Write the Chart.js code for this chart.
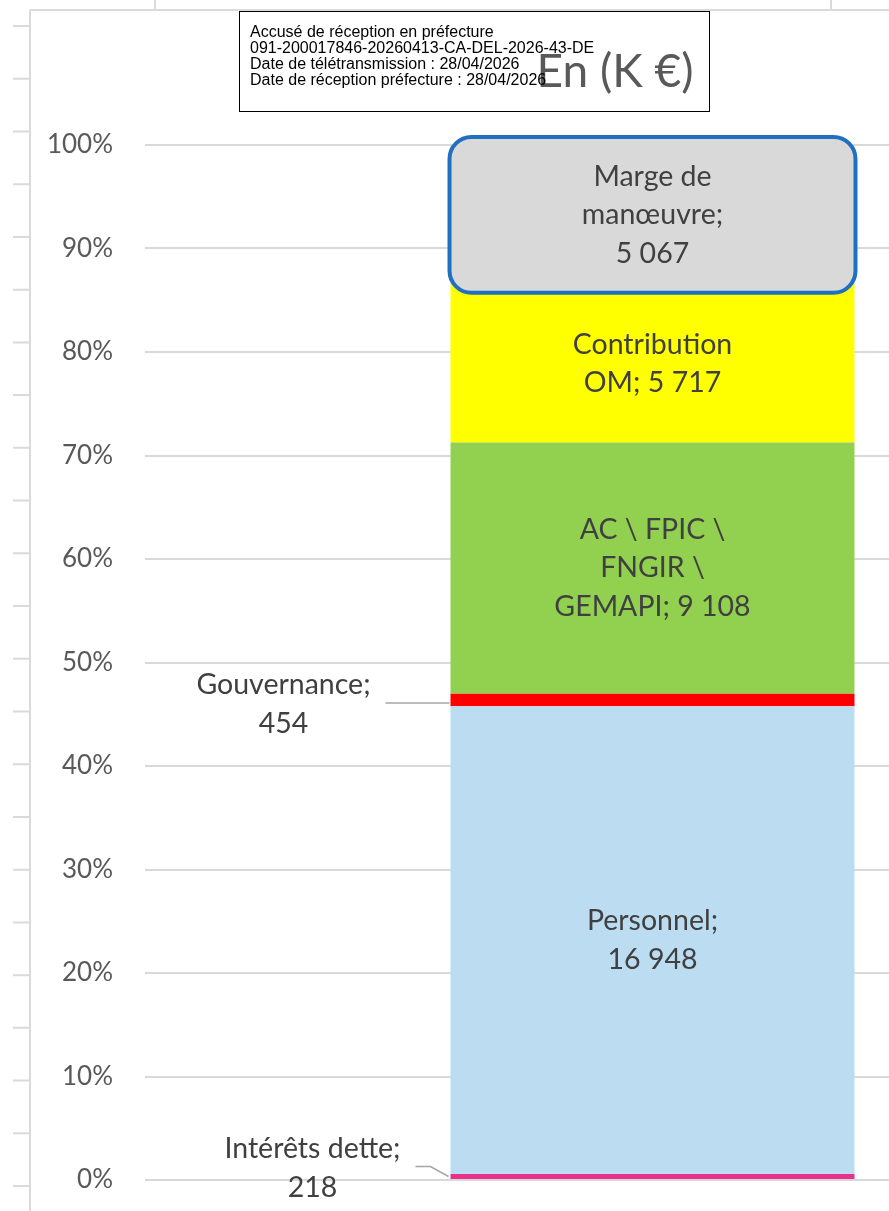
<!DOCTYPE html>
<html>
<head>
<meta charset="utf-8">
<script src="https://cdn.jsdelivr.net/npm/chart.js@4.4.1/dist/chart.umd.min.js"></script>
<style>
  body { margin: 0; width: 889px; height: 1211px; overflow: hidden; background: #fff; position: relative; }
  #wrap { position: absolute; left: 0; top: 0; width: 1170px; height: 1211px; }
  #stamp {
    position: absolute; left: 239px; top: 11px; width: 459px; height: 87px;
    border: 1px solid #000; padding: 12px 0 0 10px;
    font: 16px "Liberation Sans", Arial, sans-serif; line-height: 16px; color: #000;
    white-space: nowrap;
  }
</style>
</head>
<body>
<div id="wrap"><canvas id="chart" width="1170" height="1211"></canvas></div>
<div id="stamp">Accusé de réception en préfecture<br>091-200017846-20260413-CA-DEL-2026-43-DE<br>Date de télétransmission : 28/04/2026<br>Date de réception préfecture : 28/04/2026</div>
<script>
const chartTitle = 'En (K €)';
const categories = ['Dépenses'];
// du bas vers le haut de la barre
const segmentNames = ['Intérêts dette', 'Personnel', 'Gouvernance', 'AC \\ FPIC \\ FNGIR \\ GEMAPI', 'Contribution OM', 'Marge de manœuvre'];
const segmentValues = [218, 16948, 454, 9108, 5717, 5067];
const segmentColors = ['#e8318b', '#bcdcf1', '#ff0000', '#92d050', '#ffff00', '#d9d9d9'];
const segmentLabels = [
  ['Intérêts dette;', '218'],
  ['Personnel;', '16 948'],
  ['Gouvernance;', '454'],
  ['AC \\ FPIC \\', 'FNGIR \\', 'GEMAPI; 9 108'],
  ['Contribution', 'OM; 5 717'],
  ['Marge de', 'manœuvre;', '5 067']
];

const total = segmentValues.reduce((a, b) => a + b, 0);
const percents = segmentValues.map(v => v / total * 100);

const FONT = 'Lato, "Noto Sans", sans-serif';

// étiquettes placées à gauche de la barre (petits segments)
const outside = {
  0: { dx: -340, dy: -8, leader: [[-2, 0], [-20, -10], [-35, -10]] },
  2: { dx: -369, dy: 4, leader: [[-1, 3], [-65, 3]] }
};

// cadre gris de la feuille derrière le graphique
const framePlugin = {
  id: 'frame',
  beforeDraw(chart) {
    const ctx = chart.ctx;
    ctx.save();
    ctx.strokeStyle = '#dadada';
    ctx.lineWidth = 2;
    ctx.beginPath();
    ctx.moveTo(30, 10); ctx.lineTo(30, chart.height);
    ctx.moveTo(30, 10); ctx.lineTo(chart.width, 10);
    ctx.moveTo(155, 0); ctx.lineTo(155, 10);
    ctx.moveTo(831, 0); ctx.lineTo(831, 10);
    for (let y = 26; y < chart.height; y += 52.73) {
      ctx.moveTo(13, y); ctx.lineTo(30, y);
    }
    ctx.stroke();
    ctx.restore();
  }
};

const labelsPlugin = {
  id: 'segLabels',
  afterDatasetsDraw(chart) {
    const ctx = chart.ctx;
    ctx.save();

    // encadré bleu arrondi autour de la marge de manœuvre
    const top = chart.getDatasetMeta(segmentValues.length - 1).data[0];
    const left = top.x - top.width / 2 - 1;
    ctx.beginPath();
    ctx.roundRect(left, top.y - 8, top.width + 2, top.base - top.y + 16, 22);
    ctx.fillStyle = segmentColors[segmentColors.length - 1];
    ctx.fill();
    ctx.lineWidth = 4;
    ctx.strokeStyle = '#1f70c1';
    ctx.stroke();

    ctx.font = '28.5px ' + FONT;
    ctx.fillStyle = '#404040';
    ctx.textAlign = 'center';
    ctx.textBaseline = 'middle';
    const lh = 38.5;
    segmentLabels.forEach((lines, i) => {
      const bar = chart.getDatasetMeta(i).data[0];
      let cx = bar.x;
      let cy = (bar.y + bar.base) / 2;
      const o = outside[i];
      if (o) {
        const bl = bar.x - bar.width / 2;
        ctx.beginPath();
        o.leader.forEach((p, k) => {
          if (k === 0) ctx.moveTo(bl + p[0], cy + p[1]);
          else ctx.lineTo(bl + p[0], cy + p[1]);
        });
        ctx.strokeStyle = '#a6a6a6';
        ctx.lineWidth = 1.5;
        ctx.stroke();
        cx += o.dx;
        cy += o.dy;
      }
      const y0 = cy - (lines.length - 1) * lh / 2;
      lines.forEach((t, k) => ctx.fillText(t, cx, y0 + k * lh));
    });

    // titre
    ctx.font = '46px ' + FONT;
    ctx.fillStyle = '#595959';
    ctx.fillText(chartTitle, 615, 72);
    ctx.restore();
  }
};

new Chart(document.getElementById('chart'), {
  type: 'bar',
  data: {
    labels: categories,
    datasets: segmentNames.map((name, i) => ({
      label: name,
      data: [percents[i]],
      backgroundColor: segmentColors[i],
      borderWidth: 0,
      barPercentage: 0.398,
      categoryPercentage: 1
    }))
  },
  options: {
    responsive: false,
    animation: false,
    layout: { padding: { top: 145, bottom: 31, right: 10, left: 0 } },
    plugins: { legend: { display: false }, tooltip: { enabled: false }, title: { display: false } },
    scales: {
      x: { stacked: true, display: false },
      y: {
        stacked: true,
        min: 0,
        max: 100,
        border: { display: false },
        grid: { color: '#d9d9d9', lineWidth: 2, drawTicks: false },
        ticks: {
          stepSize: 10,
          padding: 32,
          color: '#595959',
          font: { family: FONT, size: 26 },
          callback: v => v + '%'
        },
        afterFit(scale) {
          scale.width = 145;
          scale.paddingTop = 0;
          scale.paddingBottom = 0;
        }
      }
    }
  },
  plugins: [framePlugin, labelsPlugin]
});
</script>
</body>
</html>
